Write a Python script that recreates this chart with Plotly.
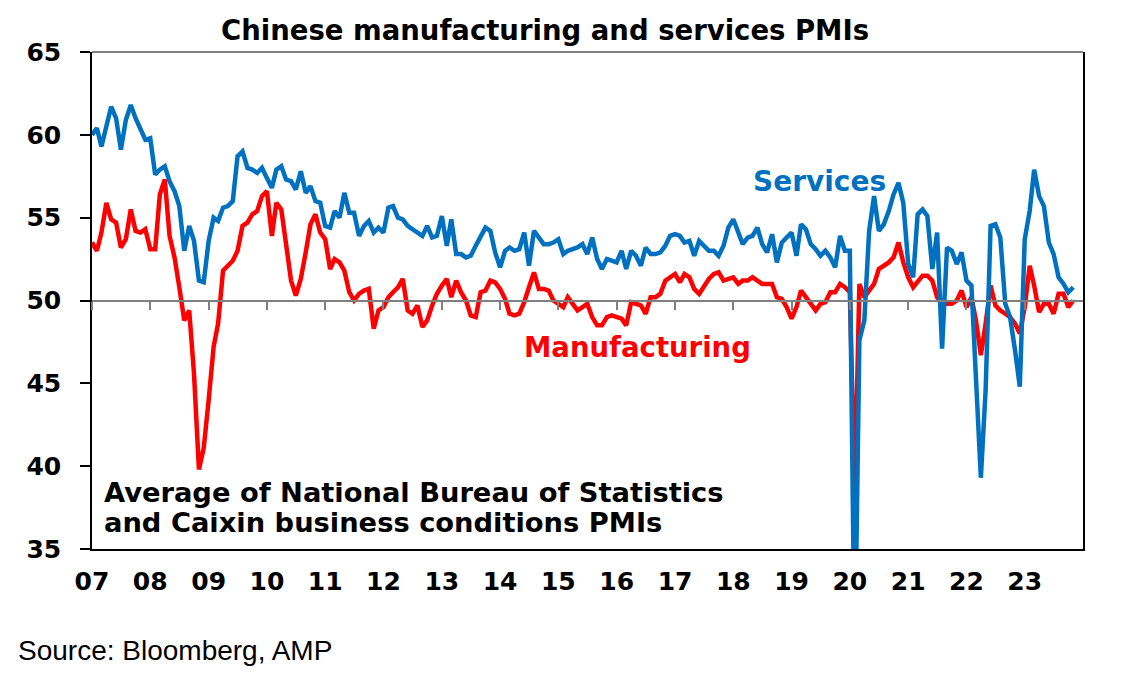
import pandas as pd
import plotly.graph_objects as go

# ---------------------------------------------------------------------------
# Data: monthly averages of NBS and Caixin PMIs, Jan 2007 - Nov 2023
# ---------------------------------------------------------------------------
START = "2007-01-01"

services = [
    60.0, 60.4, 59.3, 60.5, 61.7, 61.0, 59.1, 60.9, 61.8, 61.0, 60.3, 59.7,   # 2007
    59.8, 57.6, 57.9, 58.1, 57.2, 56.6, 55.7, 53.0, 54.5, 53.6, 51.2, 51.1,   # 2008
    53.6, 55.0, 54.8, 55.6, 55.7, 56.0, 58.7, 59.0, 58.0, 57.9, 57.7, 58.0,   # 2009
    57.4, 56.8, 57.9, 58.1, 57.3, 57.2, 56.7, 57.8, 56.5, 56.9, 56.0, 55.9,   # 2010
    54.5, 54.4, 55.4, 55.0, 56.5, 55.3, 55.3, 53.9, 54.5, 54.8, 54.1, 54.4,   # 2011
    54.1, 55.6, 55.7, 55.0, 54.9, 54.5, 54.3, 54.1, 53.9, 54.5, 53.8, 53.9,   # 2012
    55.1, 53.3, 54.9, 52.8, 52.8, 52.6, 52.7, 53.3, 53.9, 54.4, 54.2, 52.9,   # 2013
    52.0, 53.0, 53.2, 53.0, 53.1, 54.1, 52.1, 54.2, 53.8, 53.4, 53.4, 53.5,   # 2014
    53.7, 52.8, 53.0, 53.1, 53.2, 53.4, 52.8, 53.8, 52.5, 51.9, 52.5, 52.4,   # 2015
    52.3, 53.0, 51.9, 53.0, 52.7, 52.1, 53.2, 52.8, 52.8, 52.9, 53.3, 53.9,   # 2016
    54.0, 53.9, 53.5, 53.6, 52.7, 53.6, 53.3, 53.0, 53.0, 52.7, 53.3, 54.4,   # 2017
    54.9, 54.2, 53.4, 53.8, 53.9, 54.4, 53.4, 52.9, 54.0, 52.3, 53.5, 53.8,   # 2018
    54.1, 52.7, 54.6, 54.3, 53.4, 53.1, 52.7, 53.0, 52.6, 52.0, 53.9, 53.0,   # 2019
    53.0, 28.0, 47.6, 48.8, 54.2, 56.3, 54.2, 54.6, 55.4, 56.4, 57.1, 55.9,   # 2020
    52.2, 51.4, 55.2, 55.5, 55.1, 51.9, 54.1, 47.1, 53.2, 53.0, 52.2, 52.9,   # 2021
    51.2, 50.9, 45.0, 39.3, 44.6, 54.5, 54.6, 53.8, 49.8, 49.0, 47.0, 44.8,   # 2022
    53.7, 55.4, 57.9, 56.3, 55.7, 53.5, 52.8, 51.4, 51.0, 50.5, 50.8,         # 2023
]

manufacturing = [
    53.5, 53.0, 54.1, 55.9, 54.9, 54.7, 53.2, 53.7, 55.5, 54.2, 54.1, 54.3,   # 2007
    53.1, 53.1, 56.4, 57.3, 53.9, 52.6, 50.8, 48.8, 49.4, 45.6, 39.8, 41.1,   # 2008
    44.0, 47.2, 48.6, 51.8, 52.1, 52.4, 53.0, 54.5, 54.7, 55.2, 55.4, 56.3,   # 2009
    56.6, 53.9, 55.9, 55.5, 53.4, 51.2, 50.3, 51.3, 52.9, 54.6, 55.2, 54.1,   # 2010
    53.7, 51.9, 52.5, 52.3, 51.8, 50.5, 50.0, 50.4, 50.6, 50.7, 48.3, 49.4,   # 2011
    49.6, 50.2, 50.5, 50.8, 51.3, 49.4, 49.2, 49.7, 48.4, 48.8, 49.7, 50.4,   # 2012
    50.9, 51.3, 50.2, 51.2, 50.5, 50.0, 49.1, 49.0, 50.5, 50.6, 51.2, 51.1,   # 2013
    50.7, 50.1, 49.2, 49.1, 49.2, 49.9, 50.8, 51.7, 50.7, 50.7, 50.6, 50.0,   # 2014
    49.8, 49.6, 50.2, 49.8, 49.4, 49.6, 49.8, 49.0, 48.5, 48.5, 49.0, 49.1,   # 2015
    49.0, 48.9, 48.5, 49.9, 49.8, 49.7, 49.2, 50.2, 50.2, 50.4, 51.2, 51.4,   # 2016
    51.6, 51.1, 51.6, 51.4, 50.7, 50.4, 50.9, 51.3, 51.6, 51.7, 51.2, 51.3,   # 2017
    51.4, 51.0, 51.2, 51.2, 51.4, 51.2, 51.0, 51.0, 51.0, 50.2, 50.1, 49.6,   # 2018
    48.9, 49.6, 50.6, 50.2, 49.8, 49.4, 49.8, 49.9, 50.5, 50.5, 51.0, 50.8,   # 2019
    50.5, 38.3, 51.0, 50.2, 50.6, 51.0, 51.9, 52.1, 52.3, 52.6, 53.5, 52.3,   # 2020
    51.4, 50.8, 51.1, 51.5, 51.5, 51.2, 50.2, 49.8, 49.8, 49.8, 50.0, 50.6,   # 2021
    49.6, 50.2, 48.8, 46.7, 48.6, 50.9, 49.7, 49.4, 49.2, 49.0, 48.6, 48.0,   # 2022
    49.6, 52.1, 50.9, 49.3, 49.8, 49.8, 49.2, 50.4, 50.4, 49.6, 50.0,         # 2023
]

months = pd.date_range(START, periods=len(services), freq="MS")
year_ticks = pd.date_range("2007-01-01", "2023-01-01", freq="YS")
year_labels = [d.strftime("%y") for d in year_ticks]

X_RANGE = ["2007-01-01", "2024-01-01"]
BOLD_FONT = "DejaVu Sans"          # wide bold face, like the stretched original
PLAIN_FONT = "Liberation Sans, Arial, sans-serif"
BLUE = "#0070C0"
RED = "#FF0000"

fig = go.Figure()

fig.add_trace(go.Scatter(
    x=months, y=manufacturing, mode="lines", name="Manufacturing",
    line=dict(color=RED, width=4.5), xaxis="x", yaxis="y",
))
# services sits on the overlay axis (the one drawn along the 50 line)
fig.add_trace(go.Scatter(
    x=months, y=services, mode="lines", name="Services",
    line=dict(color=BLUE, width=4.5), xaxis="x2", yaxis="y",
))

# page body has an 8px margin, so the figure is 8px smaller each way
fig.update_layout(
    width=1115, height=668,
    margin=dict(l=84, r=40, t=44, b=127),
    paper_bgcolor="white", plot_bgcolor="white",
    showlegend=False,
    font=dict(family=BOLD_FONT, color="black"),
    xaxis=dict(
        type="date", range=X_RANGE,
        tickvals=year_ticks, ticktext=year_labels,
        tickfont=dict(size=25, weight="bold"),
        ticks="", ticklabelstandoff=9,
        showline=True, linecolor="black", linewidth=1.5,
        showgrid=False, zeroline=False,
    ),
    xaxis2=dict(
        type="date", range=X_RANGE, overlaying="x",
        anchor="free", position=0.5, side="bottom",
        tickvals=year_ticks, showticklabels=False,
        ticks="outside", ticklen=8, tickwidth=1.5, tickcolor="#808080",
        showline=True, linecolor="#808080", linewidth=2,
        showgrid=False, zeroline=False,
    ),
    yaxis=dict(
        range=[35, 65], dtick=5,
        tickfont=dict(size=25, weight="bold"),
        ticks="outside", ticklen=10, tickwidth=1.5, tickcolor="black",
        ticklabelstandoff=14,
        showline=True, linecolor="black", linewidth=1.5, mirror=True,
        showgrid=False, zeroline=False,
    ),
)

# grey top border of the plot box
fig.add_shape(type="line", xref="paper", yref="paper", x0=0, x1=1, y0=1, y1=1,
              line=dict(color="#808080", width=2))

fig.add_annotation(text="<b>Chinese manufacturing and services PMIs</b>",
                   xref="paper", yref="paper", x=0.457, y=1.044,
                   xanchor="center", yanchor="middle", showarrow=False,
                   font=dict(size=27.5, color="black"))
fig.add_annotation(text="<b>Services</b>", xref="paper", yref="paper",
                   x=0.665, y=0.74, xanchor="left", yanchor="middle",
                   showarrow=False, font=dict(size=28, color=BLUE))
fig.add_annotation(text="<b>Manufacturing</b>", xref="paper", yref="paper",
                   x=0.434, y=0.406, xanchor="left", yanchor="middle",
                   showarrow=False, font=dict(size=27.5, color=RED))
fig.add_annotation(text="<b>Average of National Bureau of Statistics</b>",
                   xref="paper", yref="paper", x=0.01, y=(549 - 492) / 497,
                   xanchor="left", yanchor="middle", showarrow=False,
                   font=dict(size=27.3, color="black"))
fig.add_annotation(text="<b>and Caixin business conditions PMIs</b>",
                   xref="paper", yref="paper", x=0.01, y=(549 - 522) / 497,
                   xanchor="left", yanchor="middle", showarrow=False,
                   font=dict(size=27.3, color="black"))
fig.add_annotation(text="Source: Bloomberg, AMP", xref="paper", yref="paper",
                   x=-0.077, y=(549 - 650) / 497, xanchor="left", yanchor="middle",
                   showarrow=False, font=dict(family=PLAIN_FONT, size=28, color="black"))

fig.write_html("out.html")
